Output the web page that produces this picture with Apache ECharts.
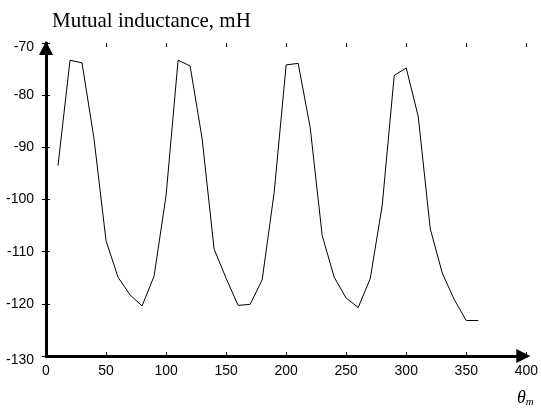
<!DOCTYPE html>
<html>
<head>
<meta charset="utf-8">
<script src="https://cdn.jsdelivr.net/npm/echarts@6/dist/echarts.min.js"></script>
<style>html,body{margin:0;padding:0;background:#fff;}#c{width:541px;height:412px;}</style>
</head>
<body>
<div id="c"></div>
<script>
// Rotor angle (degrees)
const angles = [10,20,30,40,50,60,70,80,90,100,110,120,130,140,150,160,170,180,
                190,200,210,220,230,240,250,260,270,280,290,300,310,320,330,340,350,360];
// Mutual inductance (mH)
const inductance = [-93.5,-73.3,-73.8,-88.4,-107.9,-114.9,-118.3,-120.4,-114.7,-99.2,
                    -73.3,-74.4,-88.3,-109.5,-115.1,-120.3,-120.1,-115.4,-98.7,-74.2,
                    -73.9,-86.2,-106.9,-114.9,-118.9,-120.7,-115.2,-101.1,-76.2,-74.8,
                    -84.1,-105.6,-114.1,-119.2,-123.2,-123.2];
const xTicks = {min: 0, max: 400, interval: 50};
const yTicks = {min: -130, max: -70, interval: 10};
const yTitle = 'Mutual inductance, mH';

const chart = echarts.init(document.getElementById('c'), null, {renderer: 'canvas'});
const labelFont = {color: '#000', fontSize: 14, fontFamily: 'Liberation Sans'};
const tickStyle = {color: '#000', width: 1};

chart.setOption({
  animation: false,
  backgroundColor: '#fff',
  title: [
    {text: yTitle, left: 47, top: 6,
     textStyle: {fontFamily: 'Liberation Serif', fontSize: 21, fontWeight: 'normal', color: '#000'}},
    {text: '{t|θ}{s|m}', left: 512, top: 384,
     textStyle: {fontWeight: 'normal', rich: {
       t: {fontFamily: 'Liberation Serif', fontStyle: 'italic', fontWeight: 'normal', fontSize: 18, color: '#000'},
       s: {fontFamily: 'Liberation Serif', fontStyle: 'italic', fontWeight: 'normal', fontSize: 11, color: '#000', verticalAlign: 'bottom', padding: [8, 0, 0, 0]}
     }}}
  ],
  grid: {left: 46, right: 13, top: 43, bottom: 56, containLabel: false},
  xAxis: [
    {type: 'value', position: 'bottom', min: xTicks.min, max: xTicks.max, interval: xTicks.interval,
     axisLine: {show: true, lineStyle: {color: '#000', width: 3}, symbol: ['none', 'triangle'], symbolSize: [14, 14], symbolOffset: [0, -3]},
     axisTick: {show: true, inside: true, length: 4, lineStyle: tickStyle},
     axisLabel: Object.assign({margin: 8}, labelFont),
     splitLine: {show: false}},
    {type: 'value', position: 'top', min: xTicks.min, max: xTicks.max, interval: xTicks.interval,
     axisLine: {show: false},
     axisTick: {show: true, inside: true, length: 4, lineStyle: tickStyle},
     axisLabel: {show: false},
     splitLine: {show: false}}
  ],
  yAxis: [
    {type: 'value', position: 'left', min: yTicks.min, max: yTicks.max, interval: yTicks.interval,
     axisLine: {show: true, lineStyle: {color: '#000', width: 3}, symbol: ['none', 'triangle'], symbolSize: [14, 14], symbolOffset: [0, -5]},
     axisTick: {show: true, inside: true, length: 4, lineStyle: tickStyle},
     axisLabel: Object.assign({
       margin: 12,
       formatter: function (v) {
         return (v === yTicks.min || v === yTicks.max) ? '{e|' + v + '}' : '{n|' + v + '}';
       },
       rich: {
         e: {fontSize: 14, fontFamily: 'Liberation Sans', color: '#000', padding: [9, 0, 0, 0]},
         n: {fontSize: 14, fontFamily: 'Liberation Sans', color: '#000'}
       }
     }, labelFont),
     splitLine: {show: false}},
    {type: 'value', position: 'right', min: yTicks.min, max: yTicks.max, interval: yTicks.interval,
     axisLine: {show: false},
     axisTick: {show: true, inside: true, length: 4, lineStyle: tickStyle},
     axisLabel: {show: false},
     splitLine: {show: false}}
  ],
  series: [{
    type: 'line',
    xAxisIndex: 0, yAxisIndex: 0,
    data: angles.map((a, i) => [a, inductance[i]]),
    symbol: 'none',
    lineStyle: {color: '#000', width: 1},
    z: 1
  }]
});
</script>
</body>
</html>
